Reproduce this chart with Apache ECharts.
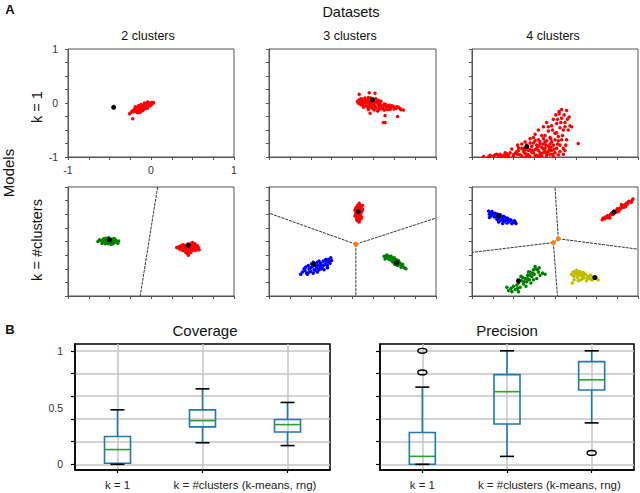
<!DOCTYPE html>
<html>
<head>
<meta charset="utf-8">
<script src="https://cdn.jsdelivr.net/npm/echarts@6/dist/echarts.min.js"></script>
<style>
  html, body { margin: 0; padding: 0; background: #fff; }
  #chart { width: 640px; height: 493px; }
</style>
</head>
<body>
<div id="chart"></div>
<script>
// ---------- panel A data (axes -1..1) ----------
const datasetNames = ['2 clusters', '3 clusters', '4 clusters'];
const modelNames = ['k = 1', 'k = #clusters'];

// row 1: k = 1
const ds2K1Red = [[-0.22,-0.14],[-0.2,-0.12],[-0.19,-0.15],[-0.18,-0.1],[-0.17,-0.13],[-0.16,-0.08],[-0.15,-0.11],[-0.14,-0.14],[-0.13,-0.07],[-0.12,-0.1],[-0.11,-0.05],[-0.1,-0.08],[-0.09,-0.12],[-0.08,-0.04],[-0.07,-0.07],[-0.06,-0.02],[-0.05,-0.05],[-0.04,-0.09],[-0.03,-0.01],[-0.02,-0.04],[-0.01,0.0],[0.0,-0.03],[0.02,-0.01],[0.03,0.01],[-0.13,-0.17],[-0.16,-0.18],[-0.1,-0.14],[-0.06,-0.1],[-0.24,-0.17],[-0.26,-0.2],[-0.22,-0.29],[-0.08,0.0],[-0.12,-0.03],[-0.04,0.02],[-0.19,-0.07],
  [-0.21,-0.16],[-0.19,-0.11],[-0.17,-0.16],[-0.15,-0.13],[-0.14,-0.09],[-0.12,-0.13],[-0.11,-0.08],[-0.1,-0.11],[-0.09,-0.06],[-0.08,-0.09],[-0.07,-0.03],[-0.06,-0.06],[-0.05,-0.01],[-0.04,-0.05],[-0.02,-0.02],[-0.01,-0.05],[0.01,-0.02],[0.01,0.01],[-0.15,-0.05],[-0.18,-0.13]];
const ds2K1Center = [[-0.45,-0.08]];

const ds3K1Red = [[0.06,0.03],[0.08,0.06],[0.08,-0.01],[0.1,0.08],[0.11,0.02],[0.12,-0.03],[0.13,0.05],[0.15,0.09],[0.15,0.0],[0.17,-0.05],[0.18,0.04],[0.19,0.1],[0.2,-0.02],[0.21,0.06],[0.22,-0.08],[0.23,0.02],[0.25,0.07],[0.25,-0.04],[0.27,0.0],[0.28,-0.09],[0.29,0.04],[0.31,-0.03],[0.32,-0.12],[0.33,0.01],[0.35,-0.06],[0.36,-0.1],[0.38,-0.02],[0.4,-0.07],[0.42,-0.12],[0.44,-0.04],[0.46,-0.09],[0.49,-0.06],[0.52,-0.1],[0.55,-0.08],[0.58,-0.12],[0.61,-0.13],[0.3,-0.15],[0.26,-0.13],[0.08,0.16],[0.2,0.19],[0.27,0.18],[0.39,-0.36],[0.37,-0.36],[0.54,-0.25],[0.21,-0.19],[0.39,-0.23],
  [0.07,0.0],[0.09,0.04],[0.1,-0.03],[0.12,0.07],[0.14,0.02],[0.14,-0.06],[0.16,0.06],[0.17,0.01],[0.18,-0.08],[0.19,0.07],[0.2,0.02],[0.21,-0.05],[0.22,0.09],[0.23,-0.01],[0.24,0.03],[0.26,0.04],[0.27,-0.06],[0.28,0.08],[0.3,0.01],[0.31,0.05],[0.32,-0.07],[0.33,-0.02],[0.34,0.03],[0.35,-0.1],[0.37,-0.05],[0.38,-0.13],[0.4,-0.03],[0.41,-0.1],[0.43,-0.07],[0.45,-0.12],[0.47,-0.05],[0.5,-0.11],[0.53,-0.07],[0.57,-0.1],[0.24,-0.1],[0.19,-0.12],[0.13,-0.08]];
const ds3K1Center = [[0.24,0.06]];

const ds4K1Red = [[-0.86,-0.99],[-0.8,-0.99],[-0.74,-0.98],[-0.68,-0.98],[-0.62,-0.97],[-0.56,-0.97],[-0.5,-0.96],[-0.45,-0.95],[-0.4,-0.98],[-0.36,-0.93],[-0.32,-0.96],[-0.28,-0.91],[-0.24,-0.97],[-0.2,-0.88],[-0.17,-0.94],[-0.14,-0.85],[-0.1,-0.97],[-0.08,-0.9],[-0.05,-0.82],[-0.03,-0.95],[-0.02,-0.99],[-0.6,-0.92],[-0.52,-0.85],[-0.45,-0.78],[-0.4,-0.84],[-0.36,-0.72],[-0.3,-0.66],[-0.28,-0.8],[-0.24,-0.58],[-0.2,-0.68],[-0.2,-0.5],[-0.16,-0.6],[-0.14,-0.44],[-0.12,-0.72],[-0.1,-0.36],[-0.08,-0.52],[-0.06,-0.64],[-0.04,-0.42],[-0.02,-0.3],[0.0,-0.56],[0.02,-0.38],[0.04,-0.7],[0.05,-0.2],[0.06,-0.46],[0.08,-0.28],[0.09,-0.6],[0.11,-0.22],[0.12,-0.36],[0.13,-0.78],[0.15,-0.3],[0.16,-0.5],[0.12,-0.88],[0.05,-0.16],[0.01,-0.22],[0.28,-0.75],[0.1,-0.84],[-0.32,-0.88],[-0.16,-0.82],[-0.7,-0.95],[-0.46,-0.9],[-0.26,-0.74],[-0.12,-0.9],[0.06,-0.9],[-0.06,-0.76],
  [-0.78,-0.97],[-0.72,-0.96],[-0.66,-0.95],[-0.6,-0.99],[-0.58,-0.94],[-0.54,-0.92],[-0.5,-0.99],[-0.48,-0.93],[-0.44,-0.88],[-0.42,-0.96],[-0.38,-0.9],[-0.34,-0.96],[-0.3,-0.86],[-0.3,-0.99],[-0.26,-0.92],[-0.24,-0.86],[-0.22,-0.97],[-0.2,-0.8],[-0.18,-0.92],[-0.16,-0.98],[-0.14,-0.76],[-0.12,-0.84],[-0.1,-0.92],[-0.1,-0.7],[-0.08,-0.8],[-0.06,-0.95],[-0.05,-0.66],[-0.04,-0.88],[-0.02,-0.78],[0.0,-0.92],[0.0,-0.68],[0.02,-0.84],[0.02,-0.55],[0.04,-0.96],[0.04,-0.62],[0.06,-0.78],[0.07,-0.36],[0.08,-0.68],[0.1,-0.5],[0.1,-0.95],[-0.18,-0.72],[-0.22,-0.78],[-0.26,-0.64],[-0.34,-0.78],[-0.38,-0.84],[-0.12,-0.6],[-0.08,-0.44],[-0.03,-0.5],[0.03,-0.3],[0.12,-0.44],[0.14,-0.68],[0.18,-0.42],[0.17,-0.26],[0.08,-0.12],[0.14,-0.14],[0.2,-0.44],
  [-0.44,-0.83],[-0.4,-0.76],[-0.36,-0.86],[-0.33,-0.8],[-0.3,-0.74],[-0.27,-0.88],[-0.24,-0.7],[-0.22,-0.84],[-0.18,-0.76],[-0.14,-0.66],[-0.14,-0.92],[-0.11,-0.78],[-0.07,-0.86],[-0.04,-0.72],[-0.01,-0.85],[0.03,-0.76],[-0.19,-0.98],[-0.35,-0.99],[-0.56,-0.99],[-0.64,-0.99]];
const ds4K1Center = [[-0.34,-0.81]];

// row 2: k = #clusters
const ds2KcGreen = [[-0.64,0.0],[-0.6,0.02],[-0.58,-0.02],[-0.56,0.04],[-0.55,0.0],[-0.53,-0.03],[-0.52,0.05],[-0.5,0.01],[-0.49,-0.03],[-0.47,0.04],[-0.46,0.0],[-0.44,-0.02],[-0.43,0.03],[-0.41,0.0],[-0.4,-0.03],[-0.39,0.01],[-0.54,0.06],[-0.48,-0.05],[-0.45,0.05],[-0.51,-0.04],[-0.57,0.02],
  [-0.62,0.03],[-0.59,-0.03],[-0.57,0.05],[-0.55,-0.04],[-0.53,0.02],[-0.51,0.07],[-0.48,0.03],[-0.46,-0.04],[-0.44,0.05],[-0.42,0.01],[-0.5,-0.01],[-0.47,0.0]];
const ds2KcRed = [[0.31,-0.11],[0.34,-0.09],[0.35,-0.14],[0.37,-0.07],[0.38,-0.12],[0.4,-0.16],[0.41,-0.08],[0.42,-0.12],[0.44,-0.05],[0.44,-0.18],[0.46,-0.1],[0.47,-0.14],[0.48,-0.2],[0.5,-0.08],[0.5,-0.12],[0.52,-0.16],[0.53,-0.1],[0.55,-0.13],[0.57,-0.11],[0.58,-0.15],[0.45,-0.25],[0.5,-0.02],[0.53,-0.04],[0.42,-0.2],[0.48,-0.06],
  [0.33,-0.12],[0.36,-0.1],[0.38,-0.16],[0.39,-0.06],[0.41,-0.14],[0.43,-0.1],[0.45,-0.14],[0.46,-0.2],[0.47,-0.04],[0.49,-0.16],[0.51,-0.14],[0.52,-0.06],[0.54,-0.16],[0.56,-0.08],[0.44,-0.22],[0.4,-0.1]];
const ds2KcCenters = [[-0.5,0.03],[0.45,-0.07]];
const ds2KcBounds = [[[0.08,1],[-0.13,-1]]];
const ds2KcVertices = [];

const ds3KcRed = [[0.04,0.62],[0.06,0.66],[0.08,0.7],[0.1,0.64],[0.05,0.56],[0.07,0.58],[0.09,0.6],[0.11,0.55],[0.04,0.5],[0.06,0.52],[0.08,0.48],[0.1,0.5],[0.05,0.44],[0.07,0.42],[0.09,0.45],[0.06,0.38],[0.08,0.36],[0.12,0.66],[0.03,0.47],[0.11,0.44],[0.06,0.45],[0.08,0.54],
  [0.03,0.58],[0.05,0.62],[0.07,0.64],[0.09,0.67],[0.11,0.6],[0.05,0.4],[0.07,0.47],[0.09,0.52],[0.1,0.42],[0.04,0.54],[0.12,0.58],[0.08,0.4],[0.06,0.6]];
const ds3KcBlue = [[-0.6,-0.56],[-0.57,-0.53],[-0.55,-0.58],[-0.52,-0.5],[-0.5,-0.55],[-0.48,-0.46],[-0.46,-0.52],[-0.45,-0.42],[-0.43,-0.48],[-0.41,-0.44],[-0.4,-0.52],[-0.38,-0.4],[-0.36,-0.46],[-0.35,-0.36],[-0.33,-0.42],[-0.31,-0.38],[-0.29,-0.33],[-0.27,-0.4],[-0.25,-0.35],[-0.42,-0.38],[-0.47,-0.58],[-0.54,-0.6],[-0.39,-0.48],
  [-0.58,-0.5],[-0.56,-0.47],[-0.53,-0.44],[-0.5,-0.48],[-0.49,-0.41],[-0.47,-0.38],[-0.44,-0.53],[-0.42,-0.56],[-0.4,-0.36],[-0.37,-0.5],[-0.35,-0.44],[-0.34,-0.52],[-0.32,-0.33],[-0.3,-0.44],[-0.28,-0.37],[-0.26,-0.3],[-0.44,-0.45],[-0.38,-0.43],[-0.52,-0.56],[-0.62,-0.6],[-0.3,-0.48]];
const ds3KcGreen = [[0.38,-0.27],[0.4,-0.29],[0.42,-0.26],[0.43,-0.31],[0.45,-0.3],[0.46,-0.34],[0.48,-0.32],[0.49,-0.36],[0.5,-0.34],[0.52,-0.38],[0.53,-0.35],[0.55,-0.41],[0.56,-0.39],[0.58,-0.43],[0.6,-0.46],[0.62,-0.48],[0.64,-0.5],[0.44,-0.28],[0.5,-0.4],[0.47,-0.29],[0.54,-0.44],
  [0.39,-0.32],[0.41,-0.25],[0.44,-0.33],[0.46,-0.27],[0.48,-0.37],[0.5,-0.3],[0.52,-0.33],[0.54,-0.38],[0.55,-0.35],[0.57,-0.4],[0.58,-0.47],[0.6,-0.42],[0.51,-0.42],[0.47,-0.34]];
const ds3KcCenters = [[0.07,0.55],[-0.46,-0.41],[0.53,-0.39]];
const ds3KcVertices = [[0.04,-0.05]];
const ds3KcBounds = [[[0.04,-0.05],[-1,0.52]],[[0.04,-0.05],[1,0.43]],[[0.04,-0.05],[0.04,-1]]];

const ds4KcBlue = [[-0.8,0.56],[-0.78,0.52],[-0.76,0.55],[-0.74,0.49],[-0.72,0.52],[-0.7,0.46],[-0.69,0.5],[-0.67,0.44],[-0.65,0.47],[-0.63,0.42],[-0.61,0.45],[-0.59,0.4],[-0.57,0.42],[-0.55,0.37],[-0.53,0.39],[-0.5,0.35],[-0.48,0.36],[-0.62,0.37],[-0.66,0.38],[-0.58,0.34],[-0.79,0.44],[-0.7,0.41],
  [-0.79,0.5],[-0.77,0.47],[-0.75,0.52],[-0.73,0.45],[-0.71,0.49],[-0.68,0.43],[-0.66,0.49],[-0.64,0.4],[-0.62,0.46],[-0.6,0.38],[-0.58,0.43],[-0.56,0.36],[-0.54,0.4],[-0.52,0.33],[-0.49,0.38],[-0.47,0.33],[-0.68,0.36],[-0.63,0.33]];
const ds4KcRed = [[0.57,0.4],[0.6,0.42],[0.62,0.44],[0.63,0.47],[0.65,0.46],[0.67,0.49],[0.69,0.51],[0.7,0.54],[0.72,0.53],[0.74,0.57],[0.76,0.58],[0.78,0.61],[0.8,0.63],[0.82,0.66],[0.84,0.67],[0.86,0.7],[0.88,0.72],[0.9,0.73],[0.93,0.76],[0.66,0.43],[0.75,0.54],[0.85,0.64],[0.8,0.68],
  [0.58,0.43],[0.61,0.45],[0.64,0.44],[0.66,0.48],[0.68,0.52],[0.7,0.5],[0.71,0.56],[0.73,0.55],[0.75,0.6],[0.77,0.56],[0.79,0.6],[0.81,0.64],[0.83,0.63],[0.85,0.68],[0.87,0.68],[0.89,0.74],[0.92,0.72],[0.94,0.78]];
const ds4KcGreen = [[-0.56,-0.9],[-0.53,-0.86],[-0.5,-0.82],[-0.48,-0.88],[-0.46,-0.8],[-0.44,-0.76],[-0.42,-0.84],[-0.4,-0.72],[-0.38,-0.78],[-0.36,-0.68],[-0.34,-0.74],[-0.33,-0.62],[-0.31,-0.7],[-0.3,-0.56],[-0.28,-0.64],[-0.26,-0.52],[-0.25,-0.6],[-0.23,-0.5],[-0.22,-0.68],[-0.2,-0.56],[-0.18,-0.62],[-0.15,-0.58],[-0.12,-0.6],[-0.35,-0.82],[-0.29,-0.76],[-0.41,-0.64],[-0.24,-0.46],
  [-0.45,-0.86],[-0.39,-0.66],[-0.37,-0.74],[-0.33,-0.68],[-0.3,-0.62],[-0.27,-0.58],[-0.21,-0.52],[-0.19,-0.48],[-0.26,-0.7],[-0.32,-0.56],[-0.52,-0.92],[-0.44,-0.92],[-0.58,-0.84]];
const ds4KcYellow = [[0.2,-0.6],[0.22,-0.56],[0.23,-0.64],[0.25,-0.58],[0.26,-0.53],[0.27,-0.66],[0.29,-0.6],[0.3,-0.55],[0.31,-0.7],[0.33,-0.62],[0.34,-0.57],[0.35,-0.67],[0.37,-0.6],[0.38,-0.72],[0.4,-0.64],[0.41,-0.68],[0.43,-0.62],[0.44,-0.7],[0.46,-0.66],[0.5,-0.68],[0.52,-0.7],[0.21,-0.76],[0.28,-0.72],
  [0.22,-0.62],[0.24,-0.55],[0.26,-0.6],[0.28,-0.56],[0.3,-0.62],[0.32,-0.58],[0.34,-0.64],[0.36,-0.6],[0.39,-0.66],[0.42,-0.64],[0.45,-0.7],[0.48,-0.66],[0.23,-0.7],[0.33,-0.68]];
const ds4KcCenters = [[-0.68,0.47],[0.71,0.54],[-0.44,-0.72],[0.48,-0.66]];
const ds4KcVertices = [[-0.02,-0.02],[0.04,0.05]];
const ds4KcBounds = [[[0.04,0.05],[0,1]],[[0.04,0.05],[1,-0.14]],[[-0.02,-0.02],[0.04,0.05]],[[-0.02,-0.02],[-1,-0.2]],[[-0.02,-0.02],[0.03,-1]]];

const axisTicksA = [-1, 0, 1];

// ---------- panel B data: [low whisker, q1, median, q3, high whisker] ----------
const boxCategories = ['k = 1', 'k = #clusters (k-means, rng)'];
const coverageStats = [[0, 0.01, 0.13, 0.245, 0.48], [0.19, 0.33, 0.385, 0.48, 0.665], [0.165, 0.285, 0.35, 0.395, 0.545]];
const precisionStats = [[0, 0, 0.07, 0.28, 0.68], [0.07, 0.355, 0.64, 0.79, 1.0], [0.365, 0.655, 0.745, 0.905, 1.0]];
const precisionOutliers = [[1, 1.0], [1, 0.81], [3, 0.1]];
const boxTicksY = [0, 0.2, 0.4, 0.6, 0.8, 1];
const boxLabelsY = [0, 0.5, 1];

// ---------- layout ----------
const FONT = 'Liberation Sans, Arial, Helvetica, sans-serif';
const RED = '#ff0000', GREEN = '#008000', BLUE = '#0000ff', YELLOW = '#bfbf00', ORANGE = '#ff7f0e';

const grids = [
  { left: 68, top: 49, width: 166, height: 108 },
  { left: 269, top: 49, width: 167, height: 108 },
  { left: 472, top: 49, width: 166, height: 108 },
  { left: 68, top: 187, width: 166, height: 109 },
  { left: 269, top: 187, width: 167, height: 109 },
  { left: 472, top: 187, width: 166, height: 109 },
  { left: 75, top: 344, width: 255, height: 126 },
  { left: 380, top: 344, width: 254, height: 126 }
].map((g, i) => Object.assign({
  show: true,
  backgroundColor: 'transparent',
  borderColor: i < 6 ? '#555' : '#000',
  borderWidth: i < 6 ? 1 : 1.5
}, g));

const xAxes = [];
const yAxes = [];
for (let i = 0; i < 6; i++) {
  const labelled = i === 0;
  const common = {
    gridIndex: i, type: 'value', min: -1, max: 1, interval: 0.25,
    axisLine: { show: true, onZero: false, lineStyle: { color: '#555', width: 1 } },
    axisTick: { show: true, inside: false, length: 3, lineStyle: { color: '#555' } },
    splitLine: { show: false },
    axisLabel: {
      show: labelled, fontSize: 10.5, color: '#333', fontFamily: FONT,
      formatter: v => axisTicksA.indexOf(v) >= 0 ? String(v) : ''
    }
  };
  xAxes.push(Object.assign({}, common, { axisLabel: Object.assign({}, common.axisLabel, { margin: 7 }) }));
  yAxes.push(Object.assign({}, common, { axisLabel: Object.assign({}, common.axisLabel, { margin: 10 }) }));
}
[6, 7].forEach(i => {
  xAxes.push({
    gridIndex: i, type: 'value', min: 0.5, max: 3.5,
    axisLine: { show: true, onZero: false, lineStyle: { color: '#000', width: 1.5 } },
    axisTick: { show: true, inside: false, length: 3, customValues: [1, 2, 3], lineStyle: { color: '#000', width: 1.2 } },
    splitLine: { show: true, lineStyle: { color: '#c4c4c4', width: 1.5 } },
    axisLabel: {
      show: true, customValues: [1, 2.5], margin: 9, fontSize: 11.5, color: '#222', fontFamily: FONT,
      formatter: v => v === 1 ? boxCategories[0] : boxCategories[1]
    }
  });
  yAxes.push({
    gridIndex: i, type: 'value', min: -0.05, max: 1.06,
    axisLine: { show: true, onZero: false, lineStyle: { color: '#000', width: 1.5 } },
    axisTick: { show: true, inside: false, length: 4, customValues: boxTicksY, lineStyle: { color: '#000', width: 1.2 } },
    splitLine: { show: true, lineStyle: { color: '#c4c4c4', width: 1.5 } },
    axisLabel: {
      show: i === 6, customValues: boxLabelsY, margin: 12, fontSize: 10.5, color: '#333', fontFamily: FONT
    }
  });
});

// ---------- series ----------
function scatter(grid, data, color, size, z) {
  return {
    type: 'scatter', xAxisIndex: grid, yAxisIndex: grid, data: data,
    symbol: 'circle', symbolSize: size, itemStyle: { color: color, opacity: 1 },
    silent: true, animation: false, z: z
  };
}
function segment(grid, seg) {
  return {
    type: 'line', xAxisIndex: grid, yAxisIndex: grid, data: seg, symbol: 'none',
    lineStyle: { color: '#333', width: 1, type: [3, 1] }, silent: true, animation: false, z: 1
  };
}

const series = [];
const panels = [
  { grid: 0, clouds: [[ds2K1Red, RED]], centers: ds2K1Center, bounds: [], vertices: [] },
  { grid: 1, clouds: [[ds3K1Red, RED]], centers: ds3K1Center, bounds: [], vertices: [] },
  { grid: 2, clouds: [[ds4K1Red, RED]], centers: ds4K1Center, bounds: [], vertices: [] },
  { grid: 3, clouds: [[ds2KcGreen, GREEN], [ds2KcRed, RED]], centers: ds2KcCenters, bounds: ds2KcBounds, vertices: ds2KcVertices },
  { grid: 4, clouds: [[ds3KcRed, RED], [ds3KcBlue, BLUE], [ds3KcGreen, GREEN]], centers: ds3KcCenters, bounds: ds3KcBounds, vertices: ds3KcVertices },
  { grid: 5, clouds: [[ds4KcBlue, BLUE], [ds4KcRed, RED], [ds4KcGreen, GREEN], [ds4KcYellow, YELLOW]], centers: ds4KcCenters, bounds: ds4KcBounds, vertices: ds4KcVertices }
];
panels.forEach(p => {
  p.bounds.forEach(seg => series.push(segment(p.grid, seg)));
  p.clouds.forEach(c => series.push(scatter(p.grid, c[0], c[1], 3.5, 2)));
  series.push(scatter(p.grid, p.centers, '#000', 5, 3));
  if (p.vertices.length) series.push(scatter(p.grid, p.vertices, ORANGE, 5, 4));
});

function renderBox(params, api) {
  const x = api.value(0);
  const p = [1, 2, 3, 4, 5].map(k => api.coord([x, api.value(k)]));
  const cx = p[0][0];
  const half = 13, cap = 7;
  const blue = { stroke: '#1f77b4', lineWidth: 1.6, fill: null };
  const black = { stroke: '#000', lineWidth: 1.6 };
  return {
    type: 'group',
    children: [
      { type: 'line', shape: { x1: cx, y1: p[4][1], x2: cx, y2: p[3][1] }, style: blue },
      { type: 'line', shape: { x1: cx, y1: p[1][1], x2: cx, y2: p[0][1] }, style: blue },
      { type: 'rect', shape: { x: cx - half, y: p[3][1], width: 2 * half, height: p[1][1] - p[3][1] }, style: { stroke: '#1f77b4', lineWidth: 1.6, fill: 'transparent' } },
      { type: 'line', shape: { x1: cx - half, y1: p[2][1], x2: cx + half, y2: p[2][1] }, style: { stroke: '#2ca02c', lineWidth: 1.6 } },
      { type: 'line', shape: { x1: cx - cap, y1: p[4][1], x2: cx + cap, y2: p[4][1] }, style: black },
      { type: 'line', shape: { x1: cx - cap, y1: p[0][1], x2: cx + cap, y2: p[0][1] }, style: black }
    ]
  };
}
function renderOutlier(params, api) {
  const c = api.coord([api.value(0), api.value(1)]);
  return { type: 'ellipse', shape: { cx: c[0], cy: c[1], rx: 4.5, ry: 2.4 }, style: { stroke: '#000', lineWidth: 1.4, fill: 'transparent' } };
}
[[6, coverageStats], [7, precisionStats]].forEach(([g, stats]) => {
  series.push({
    type: 'custom', xAxisIndex: g, yAxisIndex: g, renderItem: renderBox, clip: false,
    encode: { x: 0, y: [1, 2, 3, 4, 5] },
    data: stats.map((s, i) => [i + 1].concat(s)), silent: true, animation: false, z: 3
  });
});
series.push({
  type: 'custom', xAxisIndex: 7, yAxisIndex: 7, renderItem: renderOutlier, clip: false,
  encode: { x: 0, y: 1 }, data: precisionOutliers, silent: true, animation: false, z: 4
});

// ---------- free texts ----------
function text(str, x, y, size, extra) {
  return Object.assign({
    type: 'text', x: x, y: y, silent: true,
    style: {
      text: str, font: (extra && extra.bold ? 'bold ' : '') + size + 'px ' + FONT, fill: '#111',
      align: 'center', verticalAlign: 'middle', textAlign: 'center', textVerticalAlign: 'middle'
    }
  }, extra && extra.rot ? { rotation: Math.PI / 2 } : {});
}
const graphic = [
  text('A', 10, 9, 13, { bold: true }),
  text('Datasets', 351, 12, 14.5),
  text(datasetNames[0], 148, 36, 12.5),
  text(datasetNames[1], 350, 36, 12.5),
  text(datasetNames[2], 553, 36, 12.5),
  text('Models', 8, 173, 15, { rot: true }),
  text(modelNames[0], 37, 107, 14.5, { rot: true }),
  text(modelNames[1], 37, 240, 14.5, { rot: true }),
  text('B', 10, 329, 13, { bold: true }),
  text('Coverage', 205, 330, 15),
  text('Precision', 507, 330, 15)
];

const chart = echarts.init(document.getElementById('chart'), null, { renderer: 'svg' });
chart.setOption({
  animation: false,
  textStyle: { fontFamily: FONT },
  grid: grids,
  xAxis: xAxes,
  yAxis: yAxes,
  series: series,
  graphic: graphic
});
window.addEventListener('resize', () => chart.resize());
</script>
</body>
</html>
